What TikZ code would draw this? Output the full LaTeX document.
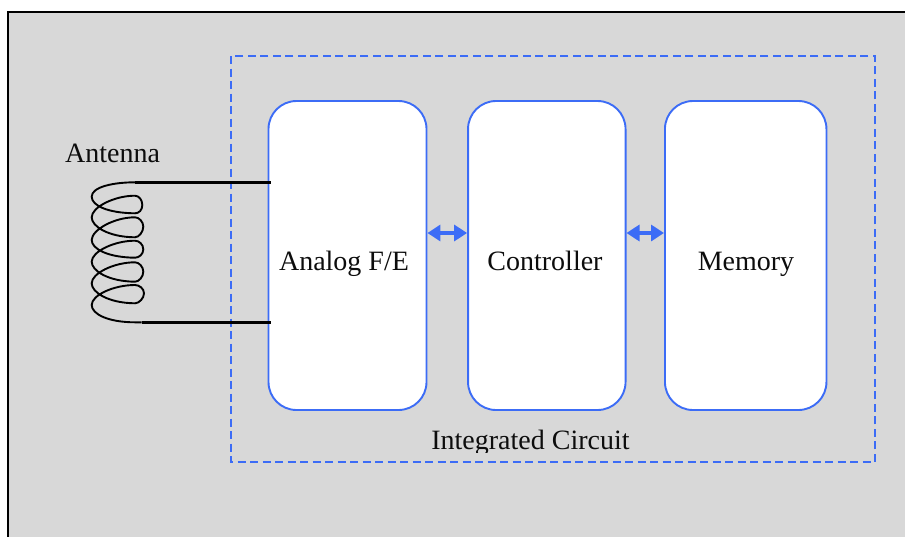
\documentclass[tikz,border=0pt]{standalone}
\usepackage{fontspec}
\setmainfont{Liberation Serif}
\usetikzlibrary{arrows.meta}
\definecolor{icblue}{HTML}{3C6CF6}
\definecolor{panel}{HTML}{D8D8D8}
\tikzset{
  x=1pt,y=-1pt,
  block/.style={draw=icblue,line width=1.9pt,fill=white,rounded corners=28pt,inner sep=0pt,minimum height=309pt},
  label text/.style={font=\fontsize{28}{30}\selectfont,anchor=base,inner sep=0pt,text=black!95},
  bus/.style={draw=icblue,line width=3.6pt,{Triangle[length=13pt,width=16pt]}-{Triangle[length=13pt,width=16pt]}},
  wire/.style={draw=black,line width=2.4pt},
  coil/.style={draw=black,line width=1.9pt},
}
% one coil turn: #1 top y (at x=135), #2 leftmost y, #3 lower y (at x=135), #4 tip x, #5 tip y, #6 next top y
\newcommand\coilloop[6]{
  .. controls (114,#1) and (91.7,#2-10) .. (91.7,#2)
  .. controls (91.7,#2+9) and (108,#3-.3) .. (135,#3)
  .. controls (139,#3) and (#4,#5+5) .. (#4,#5)
  .. controls (#4,#5-5) and (139,#6) .. (135,#6)
}
\begin{document}
\begin{tikzpicture}
\useasboundingbox (0,0) rectangle (905,536);
\begin{scope}
  \clip (0,0) rectangle (905,536);
  \draw[black,line width=2pt,fill=panel] (8,12) rectangle (925,556);
\end{scope}
\draw[icblue,line width=1.9pt,dash pattern=on 8pt off 4.5pt] (231.2,56) rectangle (875,462);
\node[block,minimum width=158pt] (fe) at (347.5,255.5) {};
\node[block,minimum width=157.5pt] (ctl) at (546.8,255.5) {};
\node[block,minimum width=161.5pt] (mem) at (745.7,255.5) {};
\node[label text] (feL) at (344,270) {Analog F/E};
\node[label text] (ctlL) at (545,270) {Controller};
\node[label text] (memL) at (746,270) {Memory};
\node[label text] (antL) at (112.5,162) {Antenna};
\begin{scope}
  \clip (400,420) rectangle (660,452);
  \node[label text] (icL) at (530.5,449) {Integrated Circuit};
\end{scope}
\draw[bus] ([yshift=22.5pt]fe.east) -- ([yshift=22.5pt]ctl.west);
\draw[bus] ([yshift=22.5pt]ctl.east) -- ([yshift=22.5pt]mem.west);
\coordinate (coilTop) at (135,182.3);
\coordinate (coilBot) at (141.7,322.3);
\coordinate (feIn) at ([xshift=3.5pt]fe.west);
\draw[coil] (coilTop)
  \coilloop{182.3}{196.7}{213.3}{142.3}{205}{195.7}
  \coilloop{195.7}{217.3}{237.3}{143.3}{226.7}{217.3}
  \coilloop{217.3}{240}{257.7}{143.3}{249.3}{240.7}
  \coilloop{240.7}{261.7}{281.7}{143.3}{271.7}{262.3}
  \coilloop{262.3}{283.3}{303.3}{144}{293.3}{285}
  .. controls (114,285) and (91.7,295) .. (91.7,305)
  .. controls (91.7,314) and (108,322.3) .. (135,322.3) -- (coilBot);
\draw[wire] (coilTop) -- (coilTop -| feIn);
\draw[wire] (coilBot) -- (coilBot -| feIn);
\end{tikzpicture}
\end{document}
